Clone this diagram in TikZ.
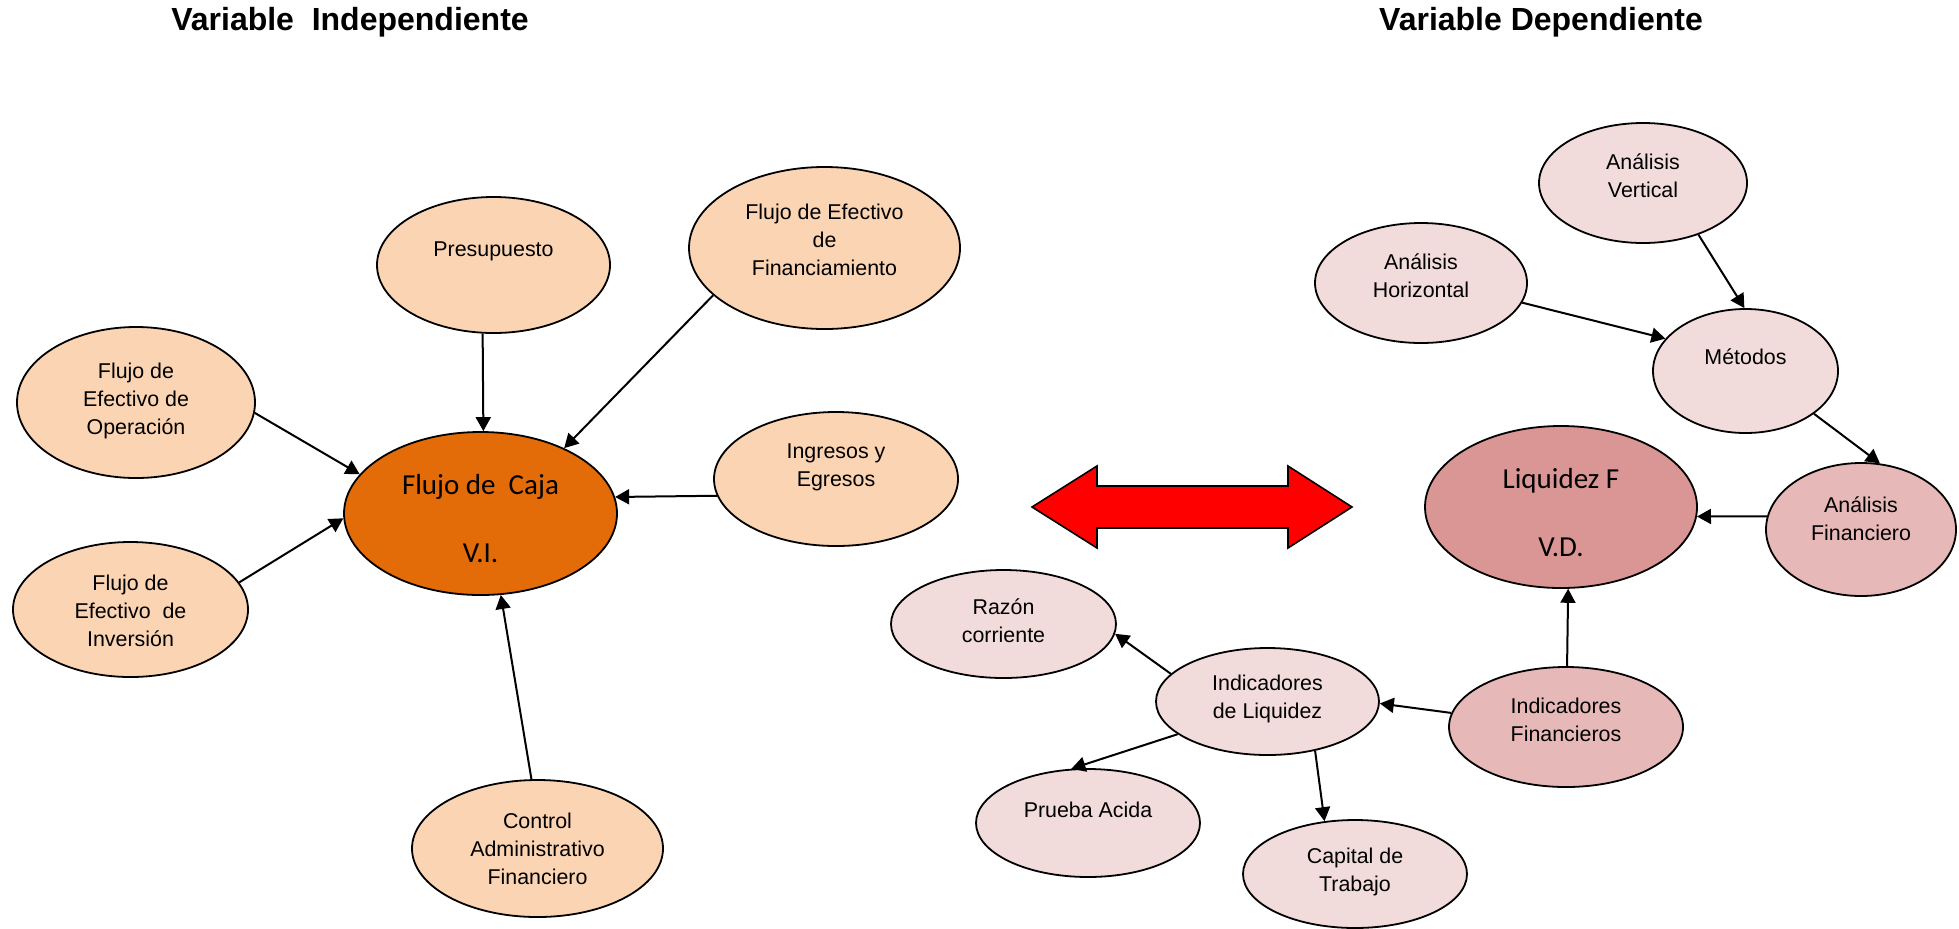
\documentclass[tikz,border=0pt]{standalone}
\usepackage{fontspec}
\setmainfont{Liberation Sans}
\newfontfamily\calfont{Carlito}
\usetikzlibrary{shapes.geometric,arrows.meta}
\definecolor{durazno}{HTML}{FBD4B4}
\definecolor{naranja}{HTML}{E36C09}
\definecolor{rosaclaro}{HTML}{F2DCDB}
\definecolor{rosamedio}{HTML}{E6B9B8}
\definecolor{rosaoscuro}{HTML}{D99694}

\tikzset{
  oval/.style={ellipse, draw=black, line width=0.9pt, inner sep=0pt},
  txt/.style={align=center, inner sep=0pt, font=\fontsize{10.7}{14}\selectfont},
  grande/.style={align=center, inner sep=0pt, font=\calfont\fontsize{14.5}{34}\selectfont},
  titulo/.style={inner sep=0pt, font=\bfseries\fontsize{16}{19}\selectfont},
  flecha/.style={-{Triangle[length=7pt,width=7.5pt]}, line width=1pt}
}

\begin{document}
\begin{tikzpicture}[x=0.5pt,y=-0.5pt]
  \useasboundingbox (0,0) rectangle (1959,928);

  % Titulos
  \node[titulo] (tituloVI) at (350,22) {Variable~ Independiente};
  \node[titulo] (tituloVD) at (1541,22) {Variable Dependiente};

  % Variable independiente
  \node[oval, fill=durazno, minimum width=116.5pt, minimum height=68pt] (pres) at (493.5,265) {};
  \node[oval, fill=durazno, minimum width=135.5pt, minimum height=81pt] (fin) at (824.5,248) {};
  \node[oval, fill=durazno, minimum width=119pt, minimum height=75.5pt] (oper) at (136,402.5) {};
  \node[oval, fill=naranja, minimum width=136.5pt, minimum height=81.5pt] (caja) at (480.5,513.5) {};
  \node[oval, fill=durazno, minimum width=122pt, minimum height=67pt] (ing) at (836,479) {};
  \node[oval, fill=durazno, minimum width=117.5pt, minimum height=67.5pt] (inv) at (130.5,609.5) {};
  \node[oval, fill=durazno, minimum width=125.5pt, minimum height=68.5pt] (ctrl) at (537.5,848.5) {};

  \node[txt] (presT) at (493.5,251) {Presupuesto};
  \node[txt] (finT) at (824.5,240) {Flujo de Efectivo\\de\\Financiamiento};
  \node[txt] (operT) at (136,401) {Flujo de\\Efectivo de\\Operación};
  \node[grande] (cajaT) at (480.5,518.5) {Flujo de~ Caja\\V.I.};
  \node[txt] (ingT) at (836,467.5) {Ingresos y\\Egresos};
  \node[txt] (invT) at (130.5,611) {Flujo de\\Efectivo~ de\\Inversión};
  \node[txt] (ctrlT) at (537.5,849) {Control\\Administrativo\\Financiero};

  \draw[flecha] (pres.-99) -- (caja.88);
  \draw[flecha] (fin.-157) -- (caja.38);
  \draw[flecha] (oper.-5) -- (caja.162);
  \draw[flecha] (inv.14) -- (caja.182);
  \draw[flecha] (ing.-172) -- (caja.7);
  \draw[flecha] (ctrl.95) -- (caja.-76);

  % Flecha doble
  \draw[fill=red, line width=0.8pt] (1032,507) -- (1097,466) -- (1097,486) -- (1288,486)
    -- (1288,466) -- (1352,507) -- (1288,548) -- (1288,528) -- (1097,528) -- (1097,548) -- cycle;

  % Variable dependiente
  \node[oval, fill=rosaclaro, minimum width=104pt, minimum height=60pt] (vert) at (1643,183) {};
  \node[oval, fill=rosaclaro, minimum width=106pt, minimum height=60pt] (hor) at (1421,283) {};
  \node[oval, fill=rosaclaro, minimum width=92.5pt, minimum height=62pt] (met) at (1745.5,371) {};
  \node[oval, fill=rosaoscuro, minimum width=136pt, minimum height=81pt] (liq) at (1561,507) {};
  \node[oval, fill=rosamedio, minimum width=95pt, minimum height=66.5pt] (anfin) at (1861,529.5) {};
  \node[oval, fill=rosamedio, minimum width=117pt, minimum height=60pt] (indfin) at (1566,727) {};
  \node[oval, fill=rosaclaro, minimum width=112.5pt, minimum height=54pt] (razon) at (1003.5,624) {};
  \node[oval, fill=rosaclaro, minimum width=111.5pt, minimum height=53.5pt] (indliq) at (1267.5,701.5) {};
  \node[oval, fill=rosaclaro, minimum width=112pt, minimum height=54pt] (prueba) at (1088,823) {};
  \node[oval, fill=rosaclaro, minimum width=112pt, minimum height=54pt] (capital) at (1355,874) {};

  \node[txt] (vertT) at (1643,175.5) {Análisis\\Vertical};
  \node[txt] (horT) at (1421,275.5) {Análisis\\Horizontal};
  \node[txt] (metT) at (1745.5,357) {Métodos};
  \node[grande] (liqT) at (1561,512.5) {Liquidez F\\V.D.};
  \node[txt] (anfinT) at (1861,519) {Análisis\\Financiero};
  \node[txt] (indfinT) at (1566,720) {Indicadores\\Financieros};
  \node[txt] (razonT) at (1003.5,621) {Razón\\corriente};
  \node[txt] (indliqT) at (1267.5,699) {Indicadores\\de Liquidez};
  \node[txt] (pruebaT) at (1088,810) {Prueba Acida};
  \node[txt] (capitalT) at (1355,871.5) {Capital de\\Trabajo};

  \draw[flecha] (vert.-43) -- (met.91);
  \draw[flecha] (hor.-11) -- (met.158);
  \draw[flecha] (met.-32) -- (anfin.74);
  \draw[flecha] (anfin.172) -- (liq.-4);
  \draw[flecha] (indfin.89) -- (liq.-85);
  \draw[flecha] (indfin.173) -- (indliq.-1);
  \draw[flecha] (indliq.164) -- (razon.-5);
  \draw[flecha] (indliq.-160) -- (prueba.107);
  \draw[flecha] (indliq.-46) -- (capital.120);
\end{tikzpicture}
\end{document}
